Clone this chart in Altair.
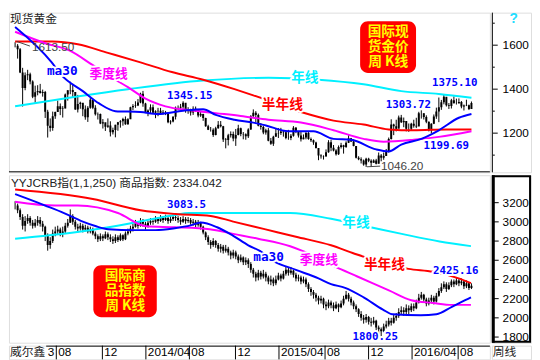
import altair as alt
import pandas as pd

# ---------------- data: spot gold, weekly (2013-03-29 .. 2016-09-23) ----------------
gold_close = [1597,1581,1476,1405,1463,1468,1435,1366,1386,1392,
 1383,1387,1297,1234,1223,1277,1296,1322,1310,1312,
 1376,1395,1396,1387,1308,1332,1338,1309,1272,1315,
 1352,1315,1286,1287,1244,1250,1229,1235,1204,1214,
 1238,1249,1254,1264,1240,1263,1318,1323,1326,1339,
 1379,1335,1294,1303,1318,1293,1300,1302,1288,1294,
 1292,1250,1253,1274,1316,1316,1320,1338,1310,1307,
 1294,1311,1305,1280,1287,1269,1231,1216,1215,1192,
 1222,1238,1231,1171,1169,1190,1196,1176,1192,1222,
 1196,1195,1186,1217,1277,1293,1283,1234,1228,1203,
 1213,1165,1152,1184,1199,1201,1207,1204,1178,1178,
 1188,1225,1205,1189,1172,1180,1201,1173,1168,1157,
 1132,1098,1095,1094,1113,1159,1134,1121,1104,1137,
 1145,1137,1156,1177,1162,1142,1088,1081,1076,1057,
 1084,1075,1065,1076,1061,1098,1088,1096,1118,1173,
 1239,1231,1220,1271,1250,1255,1220,1220,1243,1234,
 1230,1291,1290,1273,1252,1212,1243,1276,1298,1318,
 1340,1366,1327,1323,1350,1336,1336,1342,1321,1326,
 1327,1310,1337]
gold_high = [1613.5,1605,1587,1497,1476,1488,1475,1440,1416,1418,
 1424,1398,1392,1306,1267,1298,1298,1348,1335,1323,
 1380,1395,1434,1424,1387,1374,1343,1336,1326,1323,
 1361,1352,1327,1294,1289,1264,1241,1267,1254,1225,
 1238,1251,1259,1270,1276,1268,1320,1332,1345,1355,
 1384,1392,1338,1308,1331,1330,1304,1315,1315,1305,
 1301,1296,1259,1277,1321,1326,1333,1345.15,1324,1318,
 1311,1322,1321,1305,1297,1288,1270,1238,1228,1222,
 1229,1255,1255,1233,1178,1197,1208,1207,1219,1238,
 1225,1205,1199,1222,1282,1308,1300,1289,1246,1234,
 1220,1223,1178,1188,1219,1223,1224,1209,1205,1215,
 1196,1232,1228,1207,1206,1194,1205,1205,1180,1171,
 1161,1121,1104,1099,1126,1168,1170,1146,1127,1144,
 1156,1147,1163,1191,1178,1172,1141,1095,1090,1080,
 1088,1088,1081,1081,1083,1112,1105,1112,1128,1180,
 1263,1243,1261,1280,1283,1271,1253,1244,1247,1261,
 1270,1297,1303.72,1290,1281,1253,1245,1285,1316,1362,
 1351,1375.1,1359,1337,1356,1367,1357,1358,1346,1330,
 1352,1330,1344]
gold_low = [1590,1539,1473,1321,1395,1441,1422,1359,1338,1372,
 1380,1366,1269,1180,1207,1211,1265,1297,1282,1271,
 1313,1348,1377,1363,1306,1294,1311,1277,1261,1251,
 1311,1309,1280,1262,1241,1221,1210,1224,1185,1194,
 1181,1211,1225,1234,1238,1238,1264,1305,1315,1323,
 1336,1320,1291,1277,1291,1289,1268,1277,1284,1284,
 1282,1245,1240,1249,1262,1305,1310,1311,1293,1288,
 1280,1283,1296,1272,1274,1256,1229,1214,1207,1183,
 1190,1220,1226,1160,1131,1144,1180,1163,1142,1190,
 1186,1172,1170,1178,1215,1274,1250,1231,1216,1195,
 1193,1163,1147,1142,1185,1178,1192,1184,1172,1170,
 1168,1184,1200,1180,1162,1172,1172,1170,1160,1147,
 1130,1077,1084,1080,1094,1111,1118,1117,1098,1101,
 1130,1107,1133,1155,1160,1140,1085,1077,1062,1052,
 1046.2,1068,1047,1065,1058,1062,1072,1079,1096,1112,
 1171,1191,1208,1227,1246,1227,1208,1206,1211,1225,
 1223,1233,1266,1262,1245,1208,1199.69,1241,1265,1250,
 1306,1331,1321,1310,1312,1335,1330,1334,1313,1303,
 1323,1305,1312]

# ---------------- data: YYJCRB commodity index, weekly ----------------
crb_close = [3170,3120,3050,2960,3010,3040,2990,2960,2990,3020,
 2980,2950,2860,2760,2800,2880,2900,2920,2880,2900,
 2960,2990,3060,3000,2950,2930,2960,2920,2940,2900,
 2920,2880,2850,2820,2850,2830,2870,2840,2820,2800,
 2840,2810,2860,2820,2880,2900,2930,2950,2990,2960,
 3000,2980,2950,2990,3010,3000,3030,3010,3040,3020,
 3040,3010,3030,3050,3040,3020,3000,3030,3010,3020,
 2990,3000,2970,2990,2950,2890,2840,2790,2760,2800,
 2760,2720,2740,2700,2720,2680,2650,2680,2640,2600,
 2630,2580,2600,2560,2500,2460,2420,2470,2430,2460,
 2420,2380,2400,2360,2400,2440,2410,2460,2500,2470,
 2490,2450,2410,2420,2380,2400,2350,2300,2270,2240,
 2210,2180,2200,2140,2120,2160,2130,2100,2140,2110,
 2150,2200,2240,2200,2160,2120,2090,2040,2000,1980,
 2010,1960,1950,1970,1900,1880,1860,1910,1930,1970,
 1950,2000,2020,2060,2080,2060,2100,2080,2120,2100,
 2160,2210,2240,2190,2150,2180,2210,2170,2230,2280,
 2320,2350,2300,2340,2380,2350,2390,2360,2380,2330,
 2360,2310,2334.042]
crb_high = [3215,3190,3140,3080,3060,3080,3060,3020,3030,3060,
 3050,3010,2960,2880,2840,2920,2950,2960,2940,2950,
 2990,3030,3130,3080,3020,2980,2990,2980,2970,2960,
 2950,2940,2900,2870,2880,2870,2900,2890,2870,2850,
 2870,2860,2880,2870,2900,2930,2960,2980,3020,3000,
 3040,3030,3000,3010,3040,3040,3060,3050,3070,3060,
 3075,3060,3060,3080,3083.5,3060,3050,3060,3050,3050,
 3040,3030,3020,3020,3000,2960,2900,2860,2810,2830,
 2810,2780,2770,2760,2760,2740,2700,2710,2700,2660,
 2660,2640,2630,2620,2580,2520,2480,2500,2490,2500,
 2480,2440,2440,2420,2440,2470,2460,2490,2530,2520,
 2530,2500,2470,2450,2440,2430,2420,2370,2320,2290,
 2260,2230,2230,2210,2170,2190,2180,2160,2170,2150,
 2180,2230,2280,2260,2220,2180,2140,2100,2070,2030,
 2040,2020,2000,2010,1980,1920,1900,1940,1970,2000,
 2000,2030,2050,2100,2120,2110,2140,2130,2150,2150,
 2190,2250,2270,2250,2210,2210,2240,2230,2260,2310,
 2360,2380,2370,2370,2400,2400,2425.16,2410,2410,2390,
 2390,2370,2360]
crb_low = [3130,3090,3020,2920,2900,2980,2960,2930,2940,2960,
 2950,2900,2800,2700,2720,2780,2850,2870,2850,2840,
 2880,2940,2990,2970,2920,2890,2910,2890,2900,2880,
 2880,2860,2820,2790,2800,2800,2820,2810,2790,2770,
 2780,2790,2800,2800,2810,2860,2880,2900,2940,2930,
 2950,2950,2920,2940,2970,2970,2990,2980,3000,2990,
 3010,2980,2990,3010,3010,2990,2970,2990,2980,2990,
 2970,2960,2940,2950,2920,2870,2810,2760,2720,2740,
 2730,2690,2680,2670,2680,2650,2610,2620,2610,2570,
 2580,2550,2550,2520,2470,2420,2380,2390,2400,2410,
 2380,2350,2340,2330,2340,2390,2380,2400,2440,2440,
 2450,2420,2380,2380,2350,2360,2320,2270,2230,2200,
 2170,2140,2150,2100,2080,2100,2100,2070,2090,2060,
 2100,2130,2190,2170,2130,2090,2060,2010,1970,1940,
 1950,1930,1910,1930,1870,1830,1800.25,1850,1890,1910,
 1920,1940,1970,2000,2030,2020,2040,2040,2060,2070,
 2090,2150,2190,2160,2120,2130,2150,2140,2160,2220,
 2260,2300,2270,2290,2320,2320,2340,2330,2340,2300,
 2310,2290,2300]

# ---------------- moving-average lines (week index, value) ----------------
gold_ma30_i = [0,14.6,18.4,27,33.5,40,50,57,67,75,80,87.5,95,100,109,119,127,134,144,149,154,162,169,177,182]
gold_ma30_v = [1683,1522,1465,1391,1335,1300,1296,1287,1302,1309,1283,1261,1248,1235,1209,1209,1174,1170,1126,1117,1148,1174,1213,1270,1287]
gold_q_i = [0,12,22,31,40,45,52,60,70,80,90,101,114,127,139,147,159,169,182]
gold_q_v = [1661,1609,1574,1509,1443,1409,1357,1322,1304,1291,1278,1261,1248,1213,1174,1161,1170,1183,1209]
gold_h_i = [0,15,25,37,50,62.5,75,87.5,95,114,127,139,149,159,172,182]
gold_h_v = [1617,1617,1604,1565,1522,1478,1443,1400,1372,1296,1257,1239,1217,1213,1217,1217]
gold_y_i = [0,45,75,101,121,139,154,169,182]
gold_y_v = [1322,1400,1439,1452,1443,1422,1391,1378,1361]

crb_ma30_i = [0,12,19.5,27,32.3,37.2,47.4,56,63.7,70,74,80.6,87,93,97.6,103.3,112,121,126,131.6,139,146.7,150.5,161.8,168,174.2,179.5,181.8]
crb_ma30_v = [3289,3170,3092,3003,2954,2924,2914,2914,2934,2963,2993,2944,2855,2756,2697,2589,2500,2411,2352,2313,2214,2086,2037,2027,2037,2115,2184,2214]
crb_q_i = [0,16,25,41,52.3,63.7,77.6,87,96.9,109.7,114.6,127.8,136.5,149.3,158,166.7,174.2,181.8]
crb_q_v = [3210,3170,3170,3092,2954,2944,2924,2875,2825,2746,2697,2530,2431,2283,2184,2155,2135,2135]
crb_h_i = [0,31,50,64,78,87,99.5,112,126,135.4,156.9,166.7,176.9,181.8]
crb_h_v = [3338,3239,3121,3082,3062,3003,2924,2845,2756,2668,2510,2480,2411,2362]
crb_y_i = [0,24.8,37.2,49.7,63.7,69.3,109.7,126,141.8,154.2,169.3,181.8]
crb_y_v = [2825,2894,2944,3003,3072,3092,3092,3032,2944,2875,2796,2747]

# ---------------- axis ticks ----------------
gold_ticks = [1200, 1400, 1600]
gold_minor = [1100, 1300, 1500, 1700]
crb_ticks = [1800, 2000, 2200, 2400, 2600, 2800, 3000, 3200]
date_tick_i = [18, 36, 53, 70, 88, 105, 123, 140, 157, 175]
date_tick_lab = ["08", "12", "2014/04", "08", "12", "2015/04", "08", "12", "2016/04", "08"]

# ---------------- layout ----------------
W_PLOT, W_AX = 491, 40
H_TOP, H_BOT, H_XR = 163, 171, 14
xs = alt.Scale(domain=[-0.49, 187.4], nice=False, zero=False)
ys_g = alt.Scale(domain=[1022, 1748], nice=False, zero=False)
ys_c = alt.Scale(domain=[1741, 3486], nice=False, zero=False)

CJK = "Noto Sans CJK SC"
SANS = "Liberation Sans, Noto Sans CJK SC"
MONO = "DejaVu Sans Mono"
BLUE, MAG, RED, CYAN = "#0000FF", "#FF00FF", "#FF0000", "#00F0FF"
X = lambda: alt.X("i:Q", scale=xs, axis=None)


def ohlc_df(close, high, low):
    opens = [close[0]] + close[:-1]
    return pd.DataFrame({"i": list(range(len(close))), "o": opens, "h": high, "l": low, "c": close})


def candles(df, ys):
    base = alt.Chart(df).encode(x=X())
    wick = base.mark_rule(color="black", strokeWidth=1, clip=True).encode(
        y=alt.Y("l:Q", scale=ys, axis=None), y2="h:Q")
    body = base.mark_bar(color="black", size=2, clip=True).encode(
        y=alt.Y("o:Q", scale=ys, axis=None), y2="c:Q")
    return [wick, body]


def ma(ii, vv, col, ys):
    df = pd.DataFrame({"i": ii, "v": vv})
    return alt.Chart(df).mark_line(color=col, strokeWidth=2, clip=True, interpolate="monotone").encode(
        x=X(), y=alt.Y("v:Q", scale=ys, axis=None))


def labels(rows, ys, font, size, color, halo=True, weight="bold", align="left"):
    df = pd.DataFrame(rows, columns=["i", "v", "t"])
    base = alt.Chart(df).encode(x=X(), y=alt.Y("v:Q", scale=ys, axis=None), text="t:N")
    out = []
    if halo:
        out.append(base.mark_text(align=align, baseline="middle", font=font, fontSize=size, fontWeight=weight,
                                  fill="white", stroke="white", strokeWidth=4, strokeJoin="round"))
    out.append(base.mark_text(align=align, baseline="middle", font=font, fontSize=size, fontWeight=weight,
                              color=color))
    return out


def red_box(i0, i1, v0, v1, rows, ys):
    box = alt.Chart(pd.DataFrame({"i": [i0], "i2": [i1], "v": [v0], "v2": [v1]})).mark_rect(
        color="#FF0000", cornerRadius=8).encode(x=X(), x2="i2:Q", y=alt.Y("v:Q", scale=ys, axis=None), y2="v2:Q")
    txt = alt.Chart(pd.DataFrame(rows, columns=["i", "v", "t"])).mark_text(
        font=CJK, fontSize=14, fontWeight="bold", color="#FFFF00", align="center", baseline="middle").encode(
        x=X(), y=alt.Y("v:Q", scale=ys, axis=None), text="t:N")
    return [box, txt]


def fixed_text(t, x, y, size=12, color="#222222", font=SANS, weight="normal", align="left"):
    return alt.Chart(pd.DataFrame({"t": [t]})).mark_text(
        align=align, baseline="middle", font=font, fontSize=size, color=color, fontWeight=weight).encode(
        x=alt.value(x), y=alt.value(y), text="t:N")


def hline(x0, x1, y, w=1):
    return alt.Chart(pd.DataFrame({"a": [0]})).mark_rule(color="black", strokeWidth=w).encode(
        x=alt.value(x0), x2=alt.value(x1), y=alt.value(y))


def vline(x, y0, y1, w=1):
    return alt.Chart(pd.DataFrame({"a": [0]})).mark_rule(color="black", strokeWidth=w).encode(
        x=alt.value(x), y=alt.value(y0), y2=alt.value(y1))


# ---------------- top panel: gold ----------------
gdf = ohlc_df(gold_close, gold_high, gold_low)
arrow_g = alt.Chart(pd.DataFrame({"i": [0.64, 140.3], "i2": [5.9, 145.6], "v": [1617, 1047], "v2": [1596, 1050]})).mark_rule(
    color="#444444", strokeWidth=1).encode(x=X(), x2="i2:Q", y=alt.Y("v:Q", scale=ys_g, axis=None), y2="v2:Q")
top_layers = (
    candles(gdf, ys_g)
    + [ma(gold_y_i, gold_y_v, CYAN, ys_g), ma(gold_h_i, gold_h_v, RED, ys_g),
       ma(gold_q_i, gold_q_v, MAG, ys_g), ma(gold_ma30_i, gold_ma30_v, BLUE, ys_g)]
    + [arrow_g]
    + labels([(6.7, 1591, "1613.50"), (145.9, 1052, "1046.20")], ys_g, SANS, 12, "#444444", halo=False, weight="normal")
    + labels([(60.6, 1370, "1345.15"), (166.3, 1426, "1375.10"), (147.8, 1326, "1303.72"), (162.9, 1143, "1199.69")],
             ys_g, MONO, 11, BLUE)
    + labels([(12.7, 1483, "ma30")], ys_g, MONO, 13, BLUE)
    + labels([(29.7, 1470, "季度线")], ys_g, CJK, 13, MAG)
    + labels([(98.4, 1326, "半年线")], ys_g, CJK, 14, RED)
    + labels([(110.1, 1452, "年线")], ys_g, CJK, 14, CYAN)
    + red_box(137.6, 159.9, 1709, 1474, [(148.8, 1658, "国际现"), (148.8, 1591, "货金价"), (148.8, 1524, "周 K线")], ys_g)
    + [fixed_text("现货黄金", 1, 7), hline(0, W_PLOT, H_TOP - 0.5)]
)
top_plot = alt.layer(*top_layers).properties(width=W_PLOT, height=H_TOP)

gt = pd.DataFrame({"v": gold_ticks, "t": [str(v) for v in gold_ticks]})
gm = pd.DataFrame({"v": gold_minor})
top_ax = alt.layer(
    vline(0.5, 0, H_TOP),
    alt.Chart(gt).mark_rule(color="black").encode(y=alt.Y("v:Q", scale=ys_g, axis=None), x=alt.value(1), x2=alt.value(6)),
    alt.Chart(gm).mark_rule(color="black").encode(y=alt.Y("v:Q", scale=ys_g, axis=None), x=alt.value(1), x2=alt.value(3)),
    alt.Chart(gt).mark_text(align="left", baseline="middle", font=SANS, fontSize=12, color="black").encode(
        y=alt.Y("v:Q", scale=ys_g, axis=None), x=alt.value(11), text="t:N"),
    fixed_text("?", 18, 7, size=14, color="#22DDFF", weight="bold"),
).properties(width=W_AX, height=H_TOP)

# ---------------- bottom panel: commodity index ----------------
cdf = ohlc_df(crb_close, crb_high, crb_low)
bot_layers = (
    candles(cdf, ys_c)
    + [ma(crb_y_i, crb_y_v, CYAN, ys_c), ma(crb_h_i, crb_h_v, RED, ys_c),
       ma(crb_q_i, crb_q_v, MAG, ys_c), ma(crb_ma30_i, crb_ma30_v, BLUE, ys_c)]
    + labels([(60.6, 3170, "3083.5"), (166.7, 2490, "2425.16"), (134.6, 1795, "1800.25")], ys_c, MONO, 11, BLUE)
    + labels([(95, 2628, "ma30")], ys_c, MONO, 13, BLUE)
    + labels([(113.5, 2599, "季度线")], ys_c, CJK, 13, MAG)
    + labels([(130.5, 2983, "年线")], ys_c, CJK, 14, CYAN)
    + labels([(139.1, 2549, "半年线")], ys_c, CJK, 14, RED)
    + red_box(31.2, 56.5, 2549, 2007, [(43.9, 2431, "国际商"), (43.9, 2278, "品指数"), (43.9, 2125, "周 K线")], ys_c)
    + [fixed_text(f"YYJCRB指(1,1,250)  商品指数: {crb_close[-1]}", 2, 8)]
)
bot_plot = alt.layer(*bot_layers).properties(width=W_PLOT, height=H_BOT)

ct = pd.DataFrame({"v": crb_ticks, "t": [str(v) for v in crb_ticks]})
bot_ax = alt.layer(
    alt.Chart(pd.DataFrame({"a": [0]})).mark_rect(fillOpacity=0, stroke="black", strokeWidth=2).encode(
        x=alt.value(1), x2=alt.value(W_AX - 1), y=alt.value(1), y2=alt.value(H_BOT - 1)),
    vline(1.5, 0, H_BOT, 3),
    alt.Chart(ct).mark_rule(color="black").encode(y=alt.Y("v:Q", scale=ys_c, axis=None), x=alt.value(2), x2=alt.value(7)),
    alt.Chart(ct).mark_text(align="left", baseline="middle", font=SANS, fontSize=12, color="black").encode(
        y=alt.Y("v:Q", scale=ys_c, axis=None), x=alt.value(11), text="t:N"),
).properties(width=W_AX, height=H_BOT)

# ---------------- date row ----------------
dt = pd.DataFrame({"i": date_tick_i, "t": date_tick_lab})
xr_plot = alt.layer(
    hline(38, W_PLOT, 0.5),
    alt.Chart(dt).mark_rule(color="black").encode(x=X(), y=alt.value(0), y2=alt.value(H_XR)),
    alt.Chart(dt).mark_text(align="left", baseline="middle", dx=2, font=SANS, fontSize=12, color="black").encode(
        x=X(), y=alt.value(7), text="t:N"),
    alt.Chart(pd.DataFrame({"i": [date_tick_i[0]], "t": ["3"]})).mark_text(
        align="right", baseline="middle", dx=-2, font=SANS, fontSize=12, color="black").encode(
        x=X(), y=alt.value(7), text="t:N"),
    fixed_text("威尔鑫", 1, 7),
).properties(width=W_PLOT, height=H_XR)
xr_ax = alt.layer(fixed_text("周线", 1, 7)).properties(width=W_AX, height=H_XR)

chart = alt.vconcat(
    alt.hconcat(top_plot, top_ax, spacing=0),
    alt.hconcat(bot_plot, bot_ax, spacing=0),
    alt.hconcat(xr_plot, xr_ax, spacing=0),
    spacing=0,
).properties(padding=0).configure_view(stroke="transparent").configure(background="white")

chart.save("out.html", embed_options={"renderer": "svg", "actions": False})
